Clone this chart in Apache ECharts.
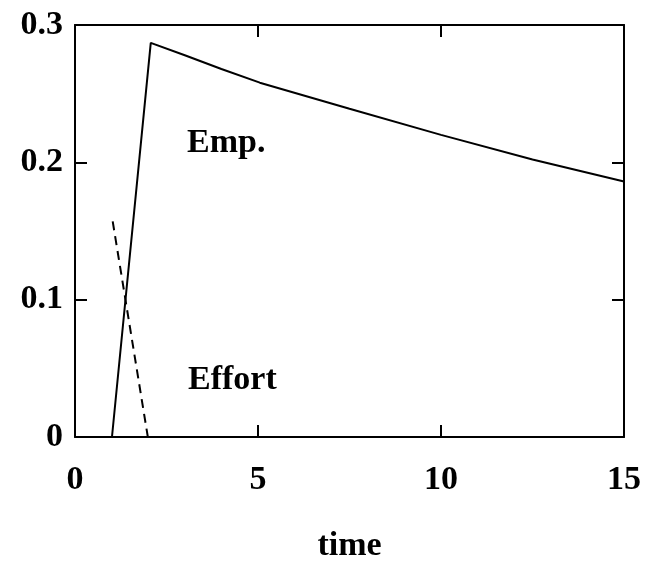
<!DOCTYPE html>
<html>
<head>
<meta charset="utf-8">
<script src="https://cdn.jsdelivr.net/npm/echarts@6/dist/echarts.min.js"></script>
<style>html,body{margin:0;padding:0;background:#fff}#c{width:648px;height:568px}</style>
</head>
<body>
<div id="c"></div>
<script>
var empTime = [1.01, 2.07, 3, 4, 5.05, 7.5, 10, 12.5, 15];
var empValues = [0, 0.287, 0.278, 0.268, 0.258, 0.239, 0.220, 0.202, 0.186];
var effortTime = [1.03, 1.99];
var effortValues = [0.157, 0];
var xTicks = [0, 5, 10, 15];
var yTicks = [0, 0.1, 0.2, 0.3];
var labels = ['Emp.', 'Effort'];

var FONT = '"Liberation Serif", serif';
var chart = echarts.init(document.getElementById('c'));
function pairs(xs, ys){ return xs.map(function(x,i){return [x, ys[i]];}); }
var axisLine = {show:true, onZero:false, lineStyle:{color:'#000', width:2}};
var tick = {show:true, inside:true, length:12, lineStyle:{color:'#000', width:2}};
chart.setOption({
  backgroundColor:'#fff',
  animation:false,
  grid:{left:75, right:24, top:25, bottom:125},
  xAxis:[{
    type:'value', min:0, max:15, interval:5, position:'bottom',
    axisLine:axisLine, axisTick:tick, splitLine:{show:false},
    axisLabel:{color:'#000', fontFamily:FONT, fontWeight:'bold', fontSize:34, margin:26,
      formatter:function(v){return xTicks.indexOf(v)>=0? String(v):'';}},
    name:'time', nameLocation:'middle', nameGap:92,
    nameTextStyle:{color:'#000', fontFamily:FONT, fontWeight:'bold', fontSize:34}
  },{
    type:'value', min:0, max:15, interval:5, position:'top',
    axisLine:axisLine, axisTick:tick, axisLabel:{show:false}, splitLine:{show:false}
  }],
  yAxis:[{
    type:'value', min:0, max:0.3, interval:0.1, position:'left',
    axisLine:axisLine, axisTick:tick, splitLine:{show:false},
    axisLabel:{color:'#000', fontFamily:FONT, fontWeight:'bold', fontSize:34, margin:12,
      formatter:function(v){var r=Math.round(v*10)/10; return r===0?'0':r.toFixed(1);}}
  },{
    type:'value', min:0, max:0.3, interval:0.1, position:'right',
    axisLine:axisLine, axisTick:tick, axisLabel:{show:false}, splitLine:{show:false}
  }],
  series:[{
    type:'line', data:pairs(empTime, empValues), showSymbol:false, symbol:'none',
    lineStyle:{color:'#000', width:2}
  },{
    type:'line', data:pairs(effortTime, effortValues), showSymbol:false, symbol:'none',
    lineStyle:{color:'#000', width:2, type:[9,6]}
  }],
  graphic:[
    {type:'text', left:187, top:126, style:{text:labels[0], fill:'#000', font:'bold 34px '+FONT}},
    {type:'text', left:188, top:363, style:{text:labels[1], fill:'#000', font:'bold 34px '+FONT}}
  ]
});
</script>
</body>
</html>
